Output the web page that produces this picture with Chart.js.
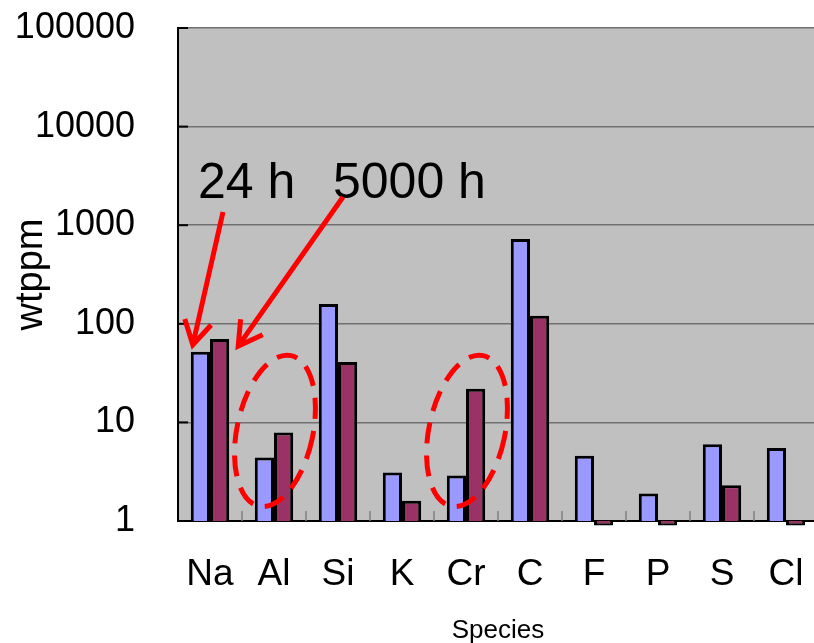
<!DOCTYPE html>
<html>
<head>
    <title>Species concentration (wtppm)</title>
    <script src="https://cdn.jsdelivr.net/npm/chart.js"></script>
    <style>
        body { margin: 0; background: #fff; overflow: hidden; }
        #speciesChart { display: block; }
    </style>
</head>
<body>
    <canvas id="speciesChart" width="818" height="643"></canvas>
    <script>
        // values
        const species = ['Na', 'Al', 'Si', 'K', 'Cr', 'C', 'F', 'P', 'S', 'Cl'];
        const after24h = [52, 4.4, 159, 3.1, 2.9, 724, 4.6, 1.9, 6.0, 5.5];
        const after5000h = [70, 7.9, 41, 1.6, 22, 121, 0.9, 0.9, 2.3, 0.9];
        const yTicks = [1, 10, 100, 1000, 10000, 100000];

        const FONT = '"Liberation Sans", Arial, sans-serif';

        // grey plot area
        const plotBackground = {
            id: 'plotBackground',
            beforeDraw(chart) {
                const { ctx, chartArea: a } = chart;
                ctx.save();
                ctx.fillStyle = '#c0c0c0';
                ctx.fillRect(a.left, a.top, a.right - a.left, a.bottom - a.top);
                ctx.restore();
            },
            beforeDatasetsDraw(chart) {
                // short inside tick marks
                const { ctx, chartArea: a, scales: { x, y } } = chart;
                ctx.save();
                ctx.strokeStyle = '#000';
                ctx.lineWidth = 2;
                yTicks.forEach(v => {
                    const py = y.getPixelForValue(v);
                    ctx.beginPath();
                    ctx.moveTo(a.left, py);
                    ctx.lineTo(a.left + 10, py);
                    ctx.stroke();
                });
                ctx.strokeStyle = '#808080';
                ctx.lineWidth = 1.5;
                for (let i = 1; i < species.length; i++) {
                    const px = (x.getPixelForValue(i - 1) + x.getPixelForValue(i)) / 2;
                    ctx.beginPath();
                    ctx.moveTo(px, a.bottom);
                    ctx.lineTo(px, a.bottom - 10);
                    ctx.stroke();
                }
                ctx.restore();
            }
        };

        function arrow(ctx, x1, y1, x2, y2) {
            const ang = Math.atan2(y2 - y1, x2 - x1);
            const head = 27, spread = Math.PI / 6;
            ctx.beginPath();
            ctx.moveTo(x1, y1);
            ctx.lineTo(x2, y2);
            ctx.moveTo(x2 - head * Math.cos(ang - spread), y2 - head * Math.sin(ang - spread));
            ctx.lineTo(x2, y2);
            ctx.lineTo(x2 - head * Math.cos(ang + spread), y2 - head * Math.sin(ang + spread));
            ctx.stroke();
        }

        // "24 h" / "5000 h" labels, arrows and dashed circles
        const annotations = {
            id: 'annotations',
            afterDatasetsDraw(chart) {
                const { ctx, scales: { x, y } } = chart;
                const naBlue = chart.getDatasetMeta(0).data[0];
                const naRed = chart.getDatasetMeta(1).data[0];
                ctx.save();
                ctx.fillStyle = '#000';
                ctx.font = '50px ' + FONT;
                ctx.textBaseline = 'alphabetic';
                ctx.fillText('24 h', 198, 198);
                ctx.fillText('5000 h', 333, 198);

                ctx.strokeStyle = '#ff0000';
                ctx.lineWidth = 5;
                ctx.lineJoin = 'miter';
                arrow(ctx, 223, 212, naBlue.x - naBlue.width / 2 + 2, naBlue.y - 7);
                arrow(ctx, 343, 197, naRed.x + naRed.width / 2 + 9, naRed.y + 7);

                ctx.setLineDash([21, 12]);
                [1, 4].forEach(i => {
                    ctx.beginPath();
                    ctx.ellipse(x.getPixelForValue(i) + 1, y.getPixelForValue(8.2), 38, 77,
                        12 * Math.PI / 180, 0, Math.PI * 2);
                    ctx.stroke();
                });
                ctx.restore();
            }
        };

        const ctx = document.getElementById('speciesChart').getContext('2d');
        const speciesChart = new Chart(ctx, {
            type: 'bar',
            data: {
                labels: species,
                datasets: [{
                    label: '24 h',
                    data: after24h,
                    backgroundColor: '#9999ff',
                    borderColor: '#000',
                    borderWidth: 3,
                    clip: false
                },
                {
                    label: '5000 h',
                    data: after5000h,
                    backgroundColor: '#993366',
                    borderColor: '#000',
                    borderWidth: 3,
                    clip: false
                }]
            },
            options: {
                responsive: false,
                animation: false,
                layout: { padding: { top: 28, left: 0, right: 0, bottom: 0 } },
                plugins: {
                    legend: { display: false },
                    tooltip: { enabled: false }
                },
                datasets: { bar: { categoryPercentage: 0.6, barPercentage: 1 } },
                scales: {
                    x: {
                        grid: {
                            display: true, drawOnChartArea: false, drawTicks: true,
                            tickLength: 32, color: 'transparent', tickColor: 'transparent'
                        },
                        border: { color: '#000', width: 2 },
                        ticks: {
                            color: '#000',
                            padding: 0,
                            font: { family: FONT, size: 37 }
                        },
                        title: {
                            display: true,
                            text: 'Species',
                            color: '#000',
                            padding: { top: 0, bottom: -3 },
                            font: { family: FONT, size: 26 }
                        },
                        afterFit: s => { s.height = 122; }
                    },
                    y: {
                        type: 'logarithmic',
                        min: 1,
                        max: 100000,
                        afterBuildTicks: s => { s.ticks = yTicks.map(v => ({ value: v })); },
                        grid: {
                            color: '#707070', lineWidth: 1.5, drawTicks: true,
                            tickLength: 43, tickColor: 'transparent'
                        },
                        border: { color: '#000', width: 2 },
                        ticks: {
                            color: '#000',
                            padding: 0,
                            font: { family: FONT, size: 36 },
                            callback: v => String(v)
                        },
                        title: {
                            display: true,
                            text: 'wtppm',
                            color: '#000',
                            padding: { top: 9, bottom: 0 },
                            font: { family: FONT, size: 38 }
                        },
                        afterFit: s => { s.width = 178; }
                    }
                }
            },
            plugins: [plotBackground, annotations]
        });
    </script>
</body>
</html>
